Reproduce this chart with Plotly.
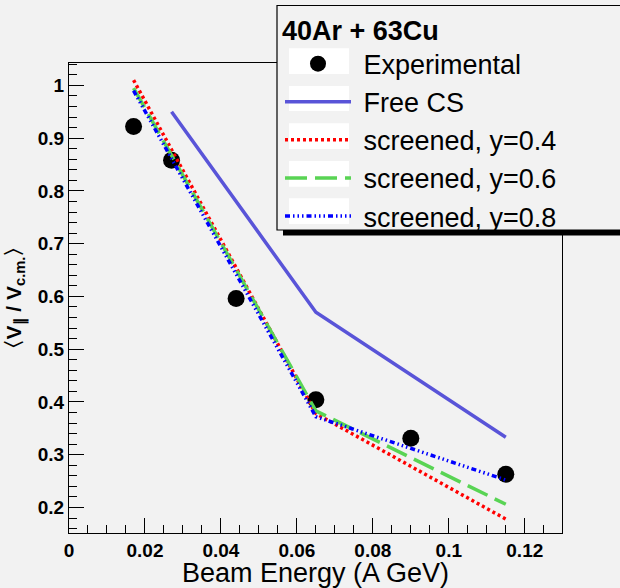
import plotly.graph_objects as go

# ---- data ----
exp_energy = [0.017, 0.027, 0.044, 0.065, 0.090, 0.115]
exp_ratio = [0.922, 0.858, 0.596, 0.404, 0.331, 0.263]

free_energy = [0.027, 0.065, 0.115]
free_ratio = [0.950, 0.570, 0.333]

scr_energy = [0.017, 0.065, 0.115]
scr04_ratio = [1.010, 0.378, 0.178]
scr06_ratio = [0.995, 0.383, 0.206]
scr08_ratio = [0.990, 0.372, 0.252]

x_tickvals = [0, 0.02, 0.04, 0.06, 0.08, 0.10, 0.12]
x_ticktext = ["0", "0.02", "0.04", "0.06", "0.08", "0.1", "0.12"]
y_tickvals = [0.2, 0.3, 0.4, 0.5, 0.6, 0.7, 0.8, 0.9, 1.0]
y_ticktext = ["0.2", "0.3", "0.4", "0.5", "0.6", "0.7", "0.8", "0.9", "1"]

legend_title = "40Ar + 63Cu"
names = ["Experimental", "Free CS", "screened, y=0.4", "screened, y=0.6", "screened, y=0.8"]

FONT = "Liberation Sans, Arial, Helvetica, sans-serif"
BG = "#f2f2f2"
W, H = 620, 588
ML, MR, MT, MB = 69, 58, 63, 55
PW, PH = W - ML - MR, H - MT - MB


def px2x(px):
    return (px - ML) / PW


def px2y(py):
    return 1 - (py - MT) / PH


NB = "\u00a0"

fig = go.Figure()
fig.add_trace(go.Scatter(x=exp_energy, y=exp_ratio, mode="markers", name=NB + names[0],
                         legendgroup="a",
                         marker=dict(color="black", size=17, symbol="circle")))
fig.add_trace(go.Scatter(x=free_energy, y=free_ratio, mode="lines", name=NB + names[1],
                         legendgroup="b",
                         line=dict(color="#5954d8", width=3.5)))
fig.add_trace(go.Scatter(x=scr_energy, y=scr04_ratio, mode="lines", name=NB + names[2],
                         legendgroup="c",
                         line=dict(color="#ff0000", width=3.5, dash="3px,3px")))
fig.add_trace(go.Scatter(x=scr_energy, y=scr06_ratio, mode="lines", name=NB + names[3],
                         legendgroup="d",
                         line=dict(color="#59d454", width=3.5, dash="22px,8px")))
fig.add_trace(go.Scatter(x=scr_energy, y=scr08_ratio, mode="lines", name=NB + names[4],
                         legendgroup="e",
                         line=dict(color="#0000ff", width=3.5,
                                   dash="5px,3px,1.5px,3px,1.5px,3px,1.5px,3px")))

axis_common = dict(
    showline=True, linecolor="black", linewidth=1, mirror=True,
    ticks="inside", ticklen=15, tickcolor="black", tickwidth=1,
    showgrid=False, zeroline=False,
    tickfont=dict(family=FONT, size=19, color="black", weight="bold"),
)

fig.update_xaxes(
    range=[0, 0.1298], tickvals=x_tickvals, ticktext=x_ticktext,
    minor=dict(ticks="inside", ticklen=8, dtick=0.005, tick0=0, tickcolor="black", showgrid=False),
    title=dict(text="Beam Energy (A GeV)", font=dict(family=FONT, size=27, color="black"), standoff=2),
    **axis_common,
)
fig.update_yaxes(
    range=[0.1516, 1.0425], tickvals=y_tickvals, ticktext=y_ticktext,
    minor=dict(ticks="inside", ticklen=8, dtick=0.02, tick0=0, tickcolor="black", showgrid=False),
    title=dict(text="<b>〈V<sub>∥</sub> / V<sub>c.m.</sub>〉</b>",
               font=dict(family=FONT, size=21, color="black"), standoff=10),
    **axis_common,
)

# legend frame (ROOT TLegend look): opaque box, shadow, white sample boxes
shapes = [
    dict(type="rect", xref="paper", yref="paper",
         x0=px2x(283), x1=px2x(650), y0=px2y(235.5), y1=px2y(229),
         fillcolor="black", line=dict(width=0), layer="above"),
    dict(type="rect", xref="paper", yref="paper",
         x0=px2x(277), x1=px2x(650), y0=px2y(230), y1=px2y(5.5),
         fillcolor=BG, line=dict(color="black", width=1.2), layer="above"),
]
for top, bot in [(48.3, 74), (86, 111), (123.3, 149), (161, 186.7), (198.3, 224)]:
    shapes.append(dict(type="rect", xref="paper", yref="paper",
                       x0=px2x(289), x1=px2x(349), y0=px2y(bot), y1=px2y(top),
                       fillcolor="white", line=dict(width=0), layer="above"))

fig.update_layout(
    width=W, height=H,
    margin=dict(l=ML, r=MR, t=MT, b=MB, autoexpand=False),
    paper_bgcolor=BG, plot_bgcolor=BG,
    font=dict(family=FONT, color="black"),
    legend=dict(
        x=px2x(280), y=px2y(4.5), xanchor="left", yanchor="top",
        bgcolor="rgba(0,0,0,0)", borderwidth=0,
        font=dict(family=FONT, size=27, color="black"),
        title=dict(text="<b>" + legend_title + "</b>", font=dict(family=FONT, size=27, color="black")),
        itemwidth=66, tracegroupgap=0,
    ),
    shapes=shapes,
)

fig.write_html("out.html",
               config={"displayModeBar": False},
               post_script="document.body.style.margin='0px';"
                           "document.body.style.background='" + BG + "';")
